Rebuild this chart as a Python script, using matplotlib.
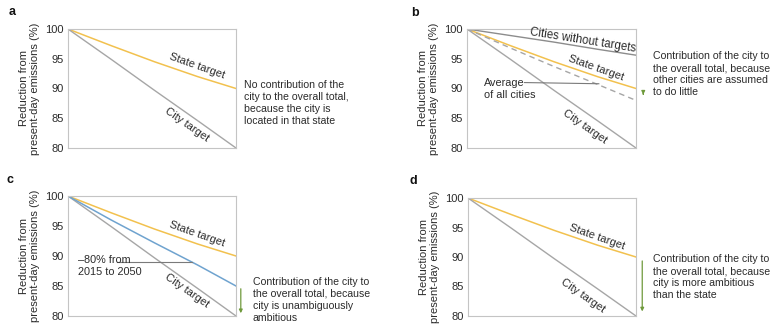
from matplotlib import pyplot as plt
import numpy as np
import matplotlib

matplotlib.use("Agg")
plt.rcParams["font.family"] = ["Liberation Sans", "DejaVu Sans"]

# data (years vs reduction from present-day emissions, %)
years = [2015, 2024, 2033, 2042, 2050]
state_target = [100, 97.2, 94.5, 92.0, 90.0]
city_target = [100, 94.9, 89.7, 84.6, 80.0]
no_target_cities = [100, 98.9, 97.8, 96.6, 95.6]
avg_all_cities = [100, 96.8, 93.7, 90.7, 88.0]
city_80pct = [100, 96.0, 92.2, 88.5, 85.0]

yticks = [80, 85, 90, 95, 100]

c_state = "#f2c14e"
c_city = "#a6a6a6"
c_none = "#8c8c8c"
c_blue = "#6fa3cf"
c_green = "#6f9a3c"
c_text = "#2b2b2b"

fig = plt.figure(figsize=(7.76, 3.24), dpi=100)
W, H = 776, 324


def px_axes(x0, y0, x1, y1):
    return fig.add_axes([x0 / W, 1 - y1 / H, (x1 - x0) / W, (y1 - y0) / H])


axa = px_axes(68, 29, 236, 148)
axb = px_axes(467, 29, 636, 148)
axc = px_axes(68, 196, 236, 316)
axd = px_axes(468, 198, 636, 316)

for ax in [axa, axb, axc, axd]:
    ax.set_xlim(2015, 2050)
    ax.set_ylim(80, 100)
    ax.set_xticks([])
    ax.set_yticks(yticks)
    ax.tick_params(axis="y", length=0, pad=3, labelsize=8, labelcolor=c_text)
    for s in ax.spines.values():
        s.set_color("#c4c4c4")
        s.set_linewidth(0.8)
    ax.set_ylabel("Reduction from\npresent-day emissions (%)", fontsize=8,
                  color=c_text, labelpad=4, linespacing=1.1)
    ax.plot(years, state_target, color=c_state, lw=1.1)
    ax.plot(years, city_target, color=c_city, lw=1.0)

txt = dict(fontsize=8, color=c_text, ha="center", va="center",
           rotation_mode="anchor")
side = dict(fontsize=7.6, color=c_text, va="center", ha="left", linespacing=1.25)

# a
axa.text(2041.9, 93.8, "State target", rotation=-19.5, **txt)
axa.text(2039.8, 84.0, "City target", rotation=-35, **txt)
axa.text(1.05, 0.38, "No contribution of the\ncity to the overall total,\n"
         "because the city is\nlocated in that state", transform=axa.transAxes,
         **side)

# b
axb.plot(years, no_target_cities, color=c_none, lw=1.0)
axb.plot(years, avg_all_cities, color=c_city, lw=1.0, ls=(0, (4, 3)))
axb.text(2039.0, 98.1, "Cities without targets", rotation=-9, fontsize=8.3,
         color=c_text, ha="center", va="center", rotation_mode="anchor")
axb.text(2041.8, 93.5, "State target", rotation=-19.5, **txt)
axb.text(2039.4, 83.6, "City target", rotation=-35, **txt)
axb.text(2018.6, 89.9, "Average\nof all cities", fontsize=7.8, color=c_text,
         ha="left", va="center", linespacing=1.3)
axb.plot([2026.9, 2042.3], [91.0, 90.8], color="#7a7a7a", lw=0.8)
axb.annotate("", xy=(2051.5, 88.5), xytext=(2051.5, 89.6),
             arrowprops=dict(arrowstyle="-|>", color=c_green, lw=0.9,
                             mutation_scale=5), annotation_clip=False)
axb.text(1.10, 0.62, "Contribution of the city to\nthe overall total, because\n"
         "other cities are assumed\nto do little", transform=axb.transAxes,
         **side)

# c
axc.plot(years, city_80pct, color=c_blue, lw=1.1)
axc.text(2041.9, 93.7, "State target", rotation=-19.5, **txt)
axc.text(2039.8, 84.3, "City target", rotation=-35, **txt)
axc.text(2017.0, 88.3, "\u201380% from\n2015 to 2050", fontsize=7.8,
         color=c_text, ha="left", va="center", linespacing=1.3)
axc.plot([2025.2, 2040.8], [89.0, 89.0], color="#7a7a7a", lw=0.8)
axc.annotate("", xy=(2051.0, 80.0), xytext=(2051.0, 85.0),
             arrowprops=dict(arrowstyle="-|>", color=c_green, lw=0.9,
                             mutation_scale=5), annotation_clip=False)
axc.text(1.10, 0.135, "Contribution of the city to\nthe overall total, because\n"
         "city is unambiguously\nambitious", transform=axc.transAxes, **side)

# d
axd.text(2041.8, 93.4, "State target", rotation=-19.5, **txt)
axd.text(2038.9, 83.5, "City target", rotation=-35, **txt)
axd.annotate("", xy=(2051.3, 80.3), xytext=(2051.3, 89.8),
             arrowprops=dict(arrowstyle="-|>", color=c_green, lw=0.9,
                             mutation_scale=5), annotation_clip=False)
axd.text(1.10, 0.33, "Contribution of the city to\nthe overall total, because\n"
         "city is more ambitious\nthan the state", transform=axd.transAxes,
         **side)

for lab, x, y in [("a", 12, 12), ("b", 415, 13), ("c", 10, 180), ("d", 413, 181)]:
    fig.text(x / W, 1 - y / H, lab, fontsize=9, fontweight="bold",
             color="#111111", ha="center", va="center")

plt.savefig("out.png", dpi=100)
